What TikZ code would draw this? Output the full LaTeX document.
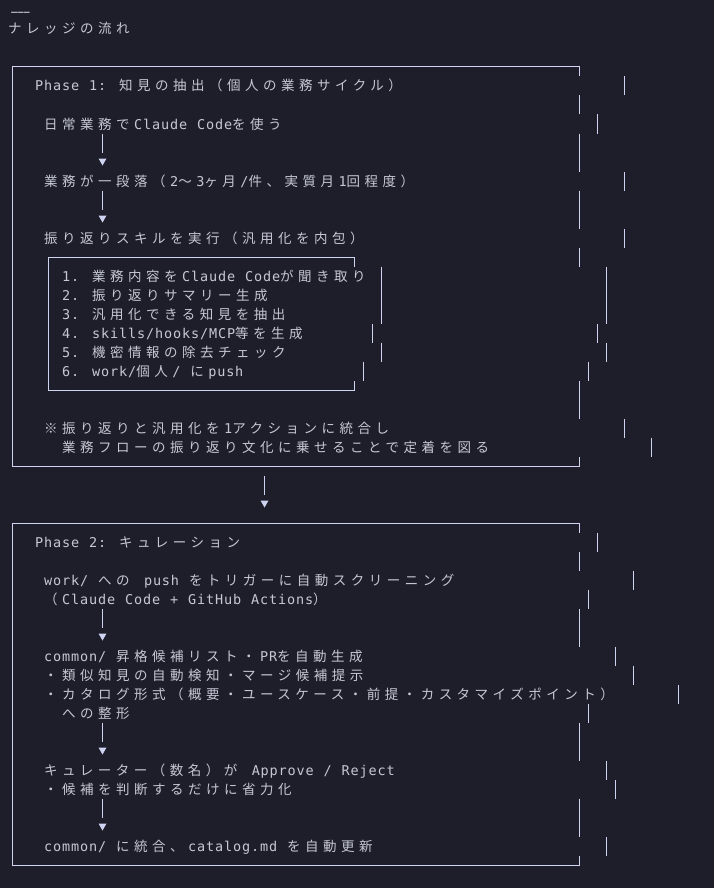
\documentclass[tikz,border=0pt]{standalone}
\usepackage{graphicx}
\usepackage{fontspec}
\newfontfamily\latf[LetterSpace=6.4]{DejaVu Sans Mono}
\newfontfamily\jpf[LetterSpace=33.3]{Noto Sans CJK JP}
\newcommand\Lsel{\fontsize{13.5pt}{13.5pt}\latf\fontdimen2\font=9.87pt\fontdimen3\font=0pt\fontdimen4\font=0pt\relax}
\newcommand\J[1]{{\fontsize{13.5pt}{13.5pt}\jpf #1\kern4.5pt}}
\definecolor{bgc}{HTML}{1D1E29}
\definecolor{txc}{HTML}{C5C8D4}
\definecolor{lnc}{HTML}{CDD3F0}
\newcommand\vb[3]{\draw[ln] ({12.5+9*#1},{0.5+19*#2}) -- ({12.5+9*#1},{19.5+19*#3});}
\newcommand\tri[2]{\fill[lnc] ({#1-4},{#2-3.5}) -- ({#1+4},{#2-3.5}) -- ({#1},{#2+3.5}) -- cycle;}
\begin{document}
\begin{tikzpicture}[x=1pt,y=-1pt,
  ln/.style={draw=lnc, line width=1pt},
  txt/.style={anchor=base west, inner sep=0pt, text=txc, font=\Lsel}]
\fill[bgc] (0,0) rectangle (714,888);
\useasboundingbox (0,0) rectangle (714,888);
% header
\node[txt] (hr) at (7,16.5) {\scalebox{1.75}[1]{-\kern-4.6pt-\kern-4.6pt-}};
\node[txt] (title) at (8,34) {\J{ナレッジの流れ}};
% ---- Phase 1 box
\draw[ln] (579.5,76.5) -- (579.5,67) -- (12.5,67) -- (12.5,466) -- (579.5,466) -- (579.5,456.5);
\node[txt] (p1) at (35,91) {Phase 1: \J{知見の抽出（個人の業務サイクル）}};
\node[txt] (a1) at (44,129) {\J{日常業務で}Claude Code\J{を使う}};
\node[txt] (a2) at (44,186) {\J{業務が一段落（}2\J{〜}3\J{ヶ月}/\J{件、実質月}1\J{回程度）}};
\node[txt] (a3) at (44,243) {\J{振り返りスキルを実行（汎用化を内包）}};
\draw[ln] (354.5,266.5) -- (354.5,257) -- (48.5,257) -- (48.5,390) -- (354.5,390) -- (354.5,380.5);
\node[txt] (s1) at (62,281) {1. \J{業務内容を}Claude Code\J{が聞き取り}};
\node[txt] (s2) at (62,300) {2. \J{振り返りサマリー生成}};
\node[txt] (s3) at (62,319) {3. \J{汎用化できる知見を抽出}};
\node[txt] (s4) at (62,338) {4. skills/hooks/MCP\J{等を生成}};
\node[txt] (s5) at (62,357) {5. \J{機密情報の除去チェック}};
\node[txt] (s6) at (62,376) {6. work/\J{個人}/ \J{に}push};
\node[txt] (n1) at (44,433) {\J{※振り返りと汎用化を}1\J{アクションに統合し}};
\node[txt] (n2) at (62,452) {\J{業務フローの振り返り文化に乗せることで定着を図る}};
% right bars phase 1
\vb{68}{4}{4} \vb{63}{5}{5} \vb{65}{6}{6} \vb{63}{7}{8} \vb{68}{9}{9}
\vb{63}{10}{11} \vb{68}{12}{12} \vb{63}{13}{13} \vb{66}{14}{16} \vb{65}{17}{17}
\vb{66}{18}{18} \vb{64}{19}{19} \vb{63}{20}{21} \vb{68}{22}{22} \vb{71}{23}{23}
\vb{41}{14}{16} \vb{40}{17}{17} \vb{41}{18}{18} \vb{39}{19}{19}
% arrows phase 1
\vb{10}{7}{7} \tri{102.5}{162}
\vb{10}{10}{10} \tri{102.5}{219}
% between
\vb{28}{25}{25} \tri{264.5}{504}
% ---- Phase 2 box
\draw[ln] (579.5,532.5) -- (579.5,523) -- (12.5,523) -- (12.5,865) -- (579.5,865) -- (579.5,855.5);
\node[txt] (p2) at (35,547) {Phase 2: \J{キュレーション}};
\node[txt] (b1) at (44,585) {work/ \J{への} push \J{をトリガーに自動スクリーニング}};
\node[txt] (b2) at (44,604) {\J{（}Claude Code + GitHub Actions\J{）}};
\node[txt] (c1) at (44,661) {common/ \J{昇格候補リスト・}PR\J{を自動生成}};
\node[txt] (c2) at (44,680) {\J{・類似知見の自動検知・マージ候補提示}};
\node[txt] (c3) at (44,699) {\J{・カタログ形式（概要・ユースケース・前提・カスタマイズポイント）}};
\node[txt] (c4) at (62,718) {\J{への整形}};
\node[txt] (d1) at (44,775) {\J{キュレーター（数名）が} Approve / Reject};
\node[txt] (d2) at (44,794) {\J{・候補を判断するだけに省力化}};
\node[txt] (e1) at (44,851) {common/ \J{に統合、}catalog.md \J{を自動更新}};
% right bars phase 2
\vb{65}{28}{28} \vb{63}{29}{29} \vb{69}{30}{30} \vb{64}{31}{31} \vb{63}{32}{33}
\vb{67}{34}{34} \vb{69}{35}{35} \vb{74}{36}{36} \vb{64}{37}{37} \vb{63}{38}{39}
\vb{66}{40}{40} \vb{67}{41}{41} \vb{63}{42}{43} \vb{66}{44}{44}
% arrows phase 2
\vb{10}{32}{32} \tri{102.5}{637}
\vb{10}{38}{38} \tri{102.5}{751}
\vb{10}{42}{42} \tri{102.5}{827}
\end{tikzpicture}
\end{document}
